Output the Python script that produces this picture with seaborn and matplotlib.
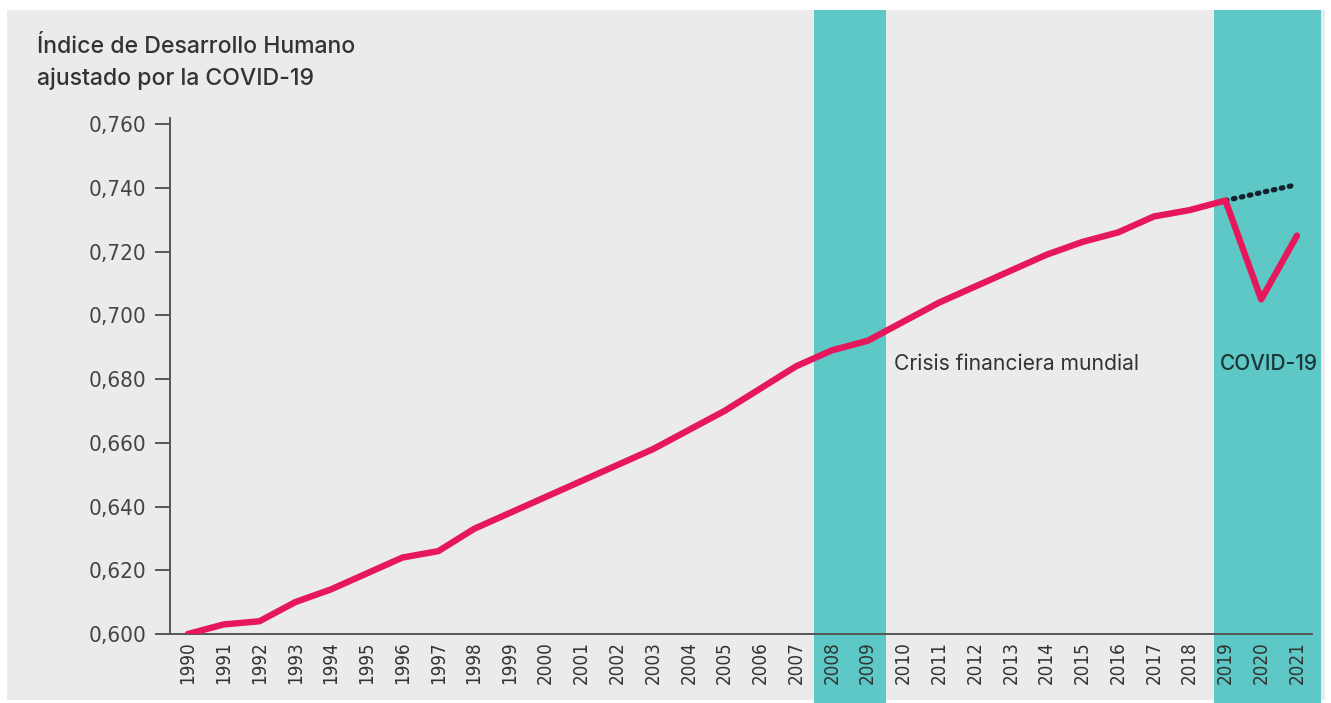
import matplotlib
matplotlib.use("Agg")
import matplotlib.pyplot as plt
import matplotlib.transforms as mtransforms
from matplotlib.patches import Rectangle
import seaborn as sns
import pandas as pd

years = list(range(1990, 2022))
hdi = [0.600, 0.603, 0.604, 0.610, 0.614, 0.619, 0.624, 0.626, 0.633, 0.638,
       0.643, 0.648, 0.653, 0.658, 0.664, 0.670, 0.677, 0.684, 0.689, 0.692,
       0.698, 0.704, 0.709, 0.714, 0.719, 0.723, 0.726, 0.731, 0.733, 0.736,
       0.705, 0.725]
trend_years = [2019, 2021]
trend_vals = [0.736, 0.741]
bands = [(2007.5, 2009.5), (2018.68, 2021.67)]
band_labels = ["Crisis financiera mundial", "COVID-19"]
yticks = [0.600, 0.620, 0.640, 0.660, 0.680, 0.700, 0.720, 0.740, 0.760]
ytick_labels = ["0,600", "0,620", "0,640", "0,660", "0,680", "0,700", "0,720", "0,740", "0,760"]
title = "Índice de Desarrollo Humano\najustado por la COVID-19"

sns.set_theme(style="ticks")
plt.rcParams['font.family'] = ['Inter', 'DejaVu Sans']

df = pd.DataFrame({"year": years, "hdi": hdi})
tdf = pd.DataFrame({"year": trend_years, "hdi": trend_vals})

fig = plt.figure(figsize=(13.31, 7.03), dpi=100, facecolor="white")
bg = fig.add_axes([7/1331, 1-700/703, (1325-7)/1331, (700-10)/703], zorder=-5)
bg.set_facecolor("#ebebeb")
bg.set_xticks([]); bg.set_yticks([])
for s in bg.spines.values():
    s.set_visible(False)

ax = fig.add_axes([170/1331, 1-634/703, (1312-170)/1331, (634-118)/703], zorder=1)
ax.set_facecolor("none")

trans = mtransforms.blended_transform_factory(ax.transData, fig.transFigure)
for (x0, x1) in bands:
    ax.add_patch(Rectangle((x0, 0), x1 - x0, 1 - 10/703, transform=trans,
                           facecolor="#5ec8c6", edgecolor="none", clip_on=False, zorder=0))

sns.lineplot(data=tdf, x="year", y="hdi", ax=ax, color="#14202c", lw=3.8,
             linestyle=(0, (0.3, 1.25)), dash_capstyle="round", zorder=3)
sns.lineplot(data=df, x="year", y="hdi", ax=ax, color="#e6175c", lw=4.6,
             solid_joinstyle="round", solid_capstyle="round", zorder=4)

ax.set_xlim(1989.5, 2021.42)
ax.set_ylim(0.600, 0.7619)
ax.set_xticks(years)
ax.set_xticklabels([str(y) for y in years], rotation=90, fontsize=13.5,
                   family="DejaVu Sans", fontstretch="condensed", color="#333333")
ax.set_yticks(yticks)
ax.set_yticklabels(ytick_labels, fontsize=16, family="DejaVu Sans",
                   fontstretch="condensed", color="#444444")
ax.tick_params(axis="x", length=0, pad=5)
ax.tick_params(axis="y", length=11, width=1.4, color="#555555", pad=6)
for s in ["top", "right"]:
    ax.spines[s].set_visible(False)
for s in ["left", "bottom"]:
    ax.spines[s].set_color("#555555")
    ax.spines[s].set_linewidth(1.4)
ax.set_xlabel("")
ax.set_ylabel("")

fig.text(37/1331, 1-36/703, title, fontsize=16.6, color="#333333",
         fontweight="medium", va="top", ha="left", linespacing=1.55)
ax.text(2009.75, 0.6846, band_labels[0], fontsize=15.2, color="#333333",
        va="center", ha="left")
ax.text(2018.85, 0.6846, band_labels[1], fontsize=15.0, color="#1c3535",
        fontweight="medium", va="center", ha="left")

fig.savefig("out.png", dpi=100, facecolor="white")
